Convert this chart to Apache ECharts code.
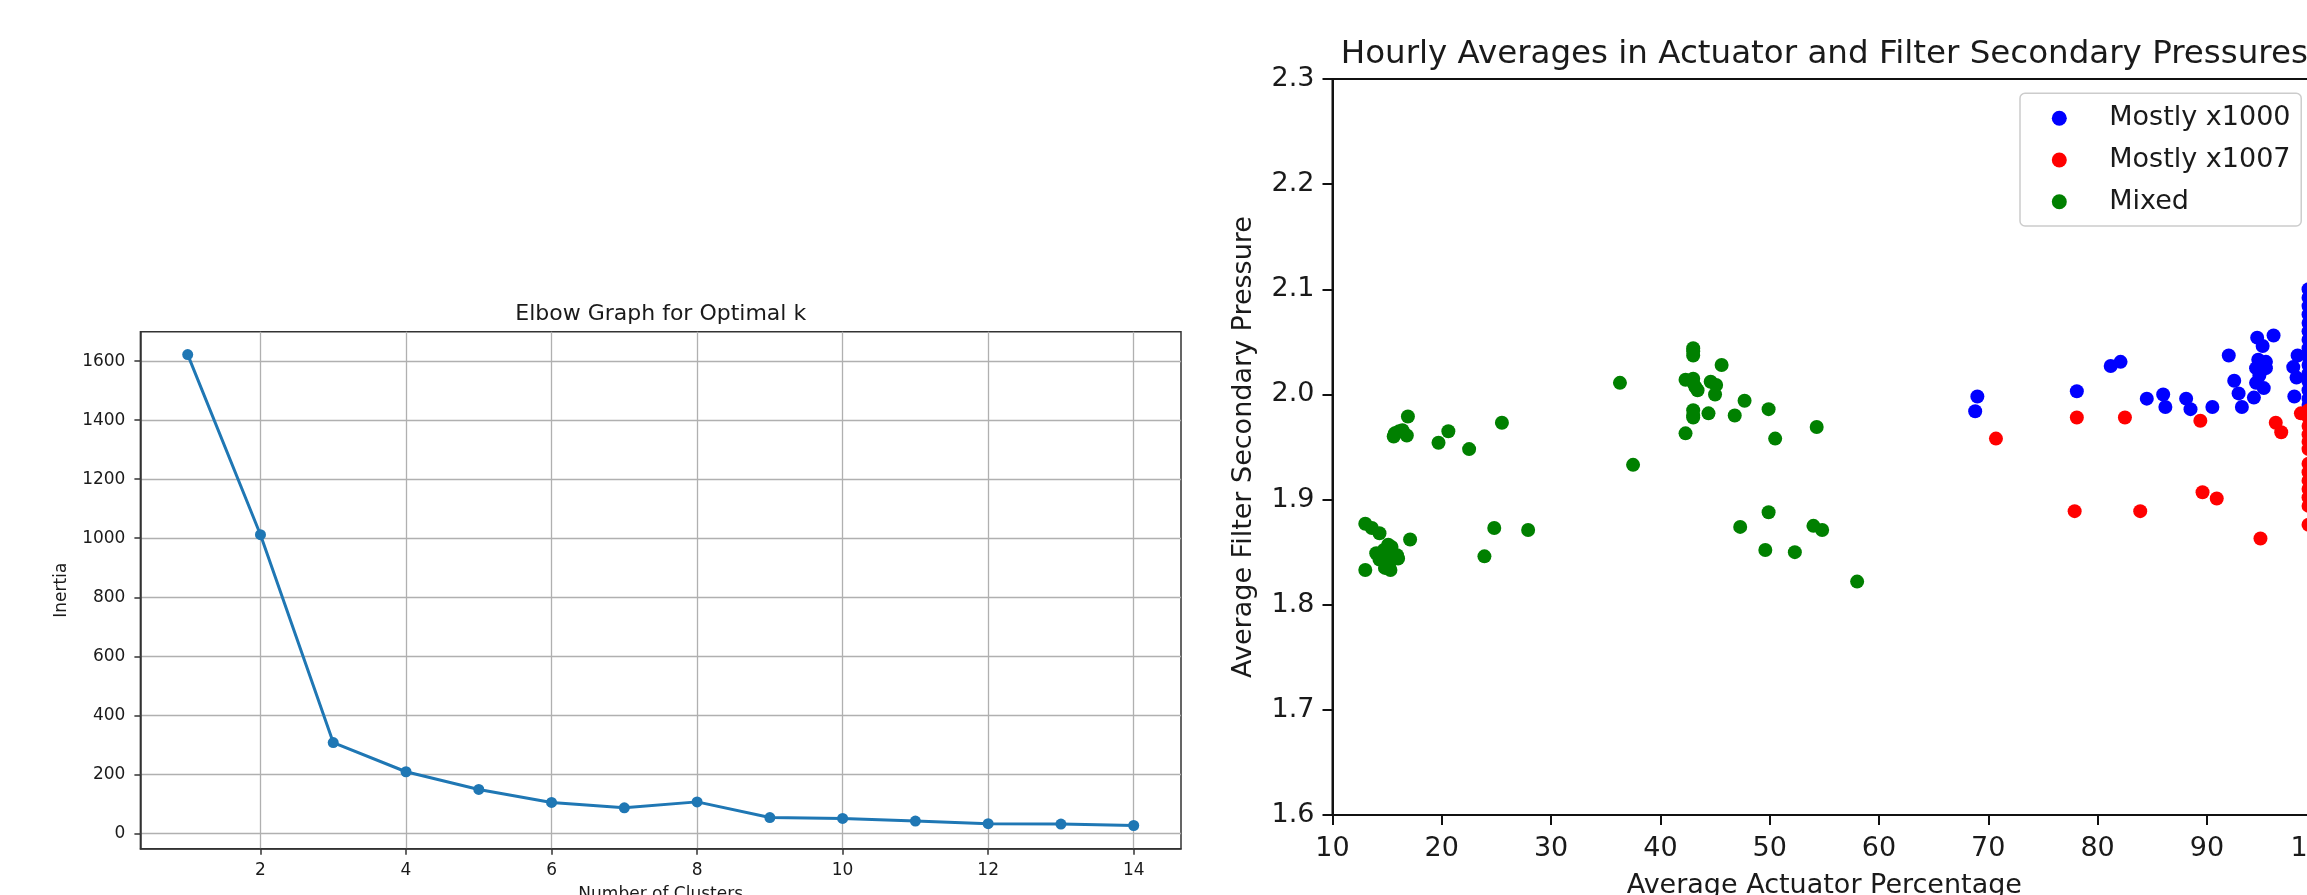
<!DOCTYPE html>
<html>
<head>
<meta charset="utf-8">
<script src="https://cdn.jsdelivr.net/npm/echarts@6/dist/echarts.min.js"></script>
<style>
html,body{margin:0;padding:0;overflow:hidden;background:#ffffff;width:2307px;height:895px;}
#chart{position:absolute;left:0;top:0;width:2400px;height:895px;}
</style>
</head>
<body>
<div id="chart"></div>
<script>
// ---------- Elbow graph data ----------
const elbowK = [1, 2, 3, 4, 5, 6, 7, 8, 9, 10, 11, 12, 13, 14];
const elbowInertia = [1622, 1012, 308, 209, 149, 105, 87, 107, 54, 51, 42, 33, 32, 27];
const elbowXTicks = [2, 4, 6, 8, 10, 12, 14];
const elbowYTicks = [0, 200, 400, 600, 800, 1000, 1200, 1400, 1600];

// ---------- Scatter data ----------
const x1000Actuator = [69.0, 68.8, 78.1, 81.2, 82.1, 84.5, 86.0, 86.2, 88.1, 88.5, 90.5, 92.0, 92.5, 92.9, 93.2, 94.3,
  94.6, 95.1, 96.1, 94.7, 95.4, 94.5, 95.4, 94.8, 94.5, 95.2, 97.9, 98.3, 98.2, 98.0,
  99.3, 99.3, 99.3, 99.3, 99.3, 99.3, 99.3, 99.3, 99.3, 99.3, 99.3, 99.3, 99.3, 99.3, 99.3];
const x1000Pressure = [1.998, 1.984, 2.003, 2.027, 2.031, 1.996, 2.000, 1.988, 1.996, 1.986, 1.988, 2.037, 2.013, 2.001, 1.988, 1.997,
  2.054, 2.046, 2.056, 2.033, 2.031, 2.025, 2.025, 2.018, 2.011, 2.006, 2.026, 2.037, 2.016, 1.998,
  2.100, 2.092, 2.084, 2.076, 2.068, 2.060, 2.052, 2.044, 2.036, 2.028, 2.020, 2.012, 2.004, 1.996, 1.990];

const x1007Actuator = [70.7, 78.1, 82.5, 89.4, 96.3, 96.8, 77.9, 83.9, 89.6, 90.9, 94.9, 98.6,
  99.3, 99.3, 99.3, 99.3, 99.3, 99.3, 99.3, 99.3, 99.3, 99.3, 99.3, 99.3, 99.3];
const x1007Pressure = [1.958, 1.978, 1.978, 1.975, 1.973, 1.964, 1.889, 1.889, 1.907, 1.901, 1.863, 1.982,
  1.985, 1.978, 1.970, 1.962, 1.955, 1.948, 1.934, 1.926, 1.918, 1.910, 1.902, 1.894, 1.876];

const mixedActuator = [16.9, 15.6, 15.7, 16.1, 16.4, 16.8, 19.7, 20.6, 22.5, 25.5,
  13.0, 13.6, 14.3, 17.1, 15.1, 14.0, 14.8, 15.9, 14.3, 15.3, 16.0, 13.0, 14.8, 15.3, 15.4, 14.7,
  24.8, 27.9, 23.9,
  36.3, 37.5, 43.0, 43.0, 43.0, 42.3, 43.0, 43.2, 43.4, 43.0, 44.6, 45.1, 45.0, 45.6, 43.0, 43.0, 43.0, 44.4, 42.3,
  46.8, 47.7, 49.9, 50.5, 47.3, 49.9, 49.6, 52.3, 54.3, 54.0, 54.8, 58.0];
const mixedPressure = [1.979, 1.960, 1.963, 1.965, 1.966, 1.961, 1.954, 1.965, 1.948, 1.973,
  1.877, 1.873, 1.868, 1.862, 1.857, 1.849, 1.850, 1.847, 1.843, 1.841, 1.844, 1.833, 1.835, 1.833, 1.855, 1.852,
  1.873, 1.871, 1.846,
  2.011, 1.933, 2.044, 2.041, 2.037, 2.014, 2.015, 2.007, 2.004, 2.011, 2.012, 2.009, 2.000, 2.028, 1.985, 1.980, 1.978, 1.982, 1.963,
  1.980, 1.994, 1.986, 1.958, 1.874, 1.888, 1.852, 1.850, 1.969, 1.875, 1.871, 1.822];

const zip = (a, b) => a.map((v, i) => [v, b[i]]);
const FONT = 'DejaVu Sans';
const dark = '#1a1a1a';

const chart = echarts.init(document.getElementById('chart'), null, {renderer: 'canvas'});
chart.setOption({
  animation: false,
  backgroundColor: '#ffffff',
  textStyle: {fontFamily: FONT},
  title: [
    {text: 'Elbow Graph for Optimal k', left: 660.7, top: 303, textAlign: 'center', padding: 0,
     textStyle: {fontSize: 22, fontWeight: 'normal', color: dark, fontFamily: FONT}},
    {text: 'Hourly Averages in Actuator and Filter Secondary Pressures', left: 1824.3, top: 38, textAlign: 'center', padding: 0,
     textStyle: {fontSize: 32.5, fontWeight: 'normal', color: dark, fontFamily: FONT}}
  ],
  legend: {
    orient: 'vertical', left: 2020, top: 93.3,
    data: ['Mostly x1000', 'Mostly x1007', 'Mixed'],
    icon: 'circle', itemWidth: 15, itemHeight: 15, itemGap: 14.7,
    padding: [11.5, 10.7, 10.8, 31.8],
    textStyle: {fontSize: 27, color: dark, fontFamily: FONT, padding: [0, 0, 0, 37.5]},
    borderColor: '#cccccc', borderWidth: 1.5, borderRadius: 5,
    backgroundColor: 'rgba(255,255,255,0.8)'
  },
  grid: [
    {left: 140.4, top: 331.7, width: 1040.6, height: 517, show: true, borderColor: '#333333', borderWidth: 1.5,
     backgroundColor: 'transparent', containLabel: false, outerBoundsMode: 'none'},
    {left: 1332.5, top: 79, width: 983.7, height: 736, show: true, borderColor: '#111111', borderWidth: 2,
     backgroundColor: 'transparent', containLabel: false, outerBoundsMode: 'none'}
  ],
  xAxis: [
    {type: 'value', gridIndex: 0, min: 0.35, max: 14.65, splitNumber: 7,
     name: 'Number of Clusters', nameLocation: 'middle', nameGap: 37, nameMoveOverlap: false,
     nameTextStyle: {fontSize: 17, color: dark, fontFamily: FONT},
     axisLine: {show: true, onZero: false, lineStyle: {color: '#333333', width: 1.5}},
     axisTick: {show: true, inside: false, length: 6, lineStyle: {color: '#333333', width: 1.5}, customValues: elbowXTicks},
     axisLabel: {show: true, fontSize: 17, color: dark, margin: 13, fontFamily: FONT, customValues: elbowXTicks,
                 formatter: v => String(v)},
     splitLine: {show: true, lineStyle: {color: '#b0b0b0', width: 1.3}}},
    {type: 'value', gridIndex: 1, min: 10, max: 100, interval: 10,
     name: 'Average Actuator Percentage', nameLocation: 'middle', nameGap: 57, nameMoveOverlap: false,
     nameTextStyle: {fontSize: 27, color: dark, fontFamily: FONT},
     axisLine: {show: true, onZero: false, lineStyle: {color: '#111111', width: 2}},
     axisTick: {show: true, inside: false, length: 10, lineStyle: {color: '#111111', width: 2}},
     axisLabel: {show: true, fontSize: 27, color: dark, margin: 20, fontFamily: FONT},
     splitLine: {show: false}}
  ],
  yAxis: [
    {type: 'value', gridIndex: 0, min: -51.6, max: 1699.6, splitNumber: 8,
     name: 'Inertia', nameLocation: 'middle', nameGap: 70, nameRotate: 90, nameMoveOverlap: false,
     nameTextStyle: {fontSize: 17, color: dark, fontFamily: FONT},
     axisLine: {show: true, onZero: false, lineStyle: {color: '#333333', width: 1.5}},
     axisTick: {show: true, inside: false, length: 6, lineStyle: {color: '#333333', width: 1.5}, customValues: elbowYTicks},
     axisLabel: {show: true, fontSize: 17, color: dark, margin: 15, fontFamily: FONT, customValues: elbowYTicks,
                 formatter: v => String(v)},
     splitLine: {show: true, lineStyle: {color: '#b0b0b0', width: 1.3}}},
    {type: 'value', gridIndex: 1, min: 1.6, max: 2.3, interval: 0.1,
     name: 'Average Filter Secondary Pressure', nameLocation: 'middle', nameGap: 75, nameRotate: 90, nameMoveOverlap: false,
     nameTextStyle: {fontSize: 27, color: dark, fontFamily: FONT},
     axisLine: {show: true, onZero: false, lineStyle: {color: '#111111', width: 2}},
     axisTick: {show: true, inside: false, length: 10, lineStyle: {color: '#111111', width: 2}},
     axisLabel: {show: true, fontSize: 27, color: dark, margin: 18, fontFamily: FONT,
                 formatter: v => v.toFixed(1)},
     splitLine: {show: false}}
  ],
  series: [
    {name: 'Inertia', type: 'line', xAxisIndex: 0, yAxisIndex: 0, data: zip(elbowK, elbowInertia),
     symbol: 'circle', symbolSize: 11, showSymbol: true,
     lineStyle: {color: '#1f77b4', width: 3}, itemStyle: {color: '#1f77b4'}},
    {name: 'Mostly x1000', type: 'scatter', xAxisIndex: 1, yAxisIndex: 1, data: zip(x1000Actuator, x1000Pressure),
     symbol: 'circle', symbolSize: 14, itemStyle: {color: '#0000ff', opacity: 1}},
    {name: 'Mostly x1007', type: 'scatter', xAxisIndex: 1, yAxisIndex: 1, data: zip(x1007Actuator, x1007Pressure),
     symbol: 'circle', symbolSize: 14, itemStyle: {color: '#ff0000', opacity: 1}},
    {name: 'Mixed', type: 'scatter', xAxisIndex: 1, yAxisIndex: 1, data: zip(mixedActuator, mixedPressure),
     symbol: 'circle', symbolSize: 14, itemStyle: {color: '#008000', opacity: 1}}
  ]
});
</script>
</body>
</html>
